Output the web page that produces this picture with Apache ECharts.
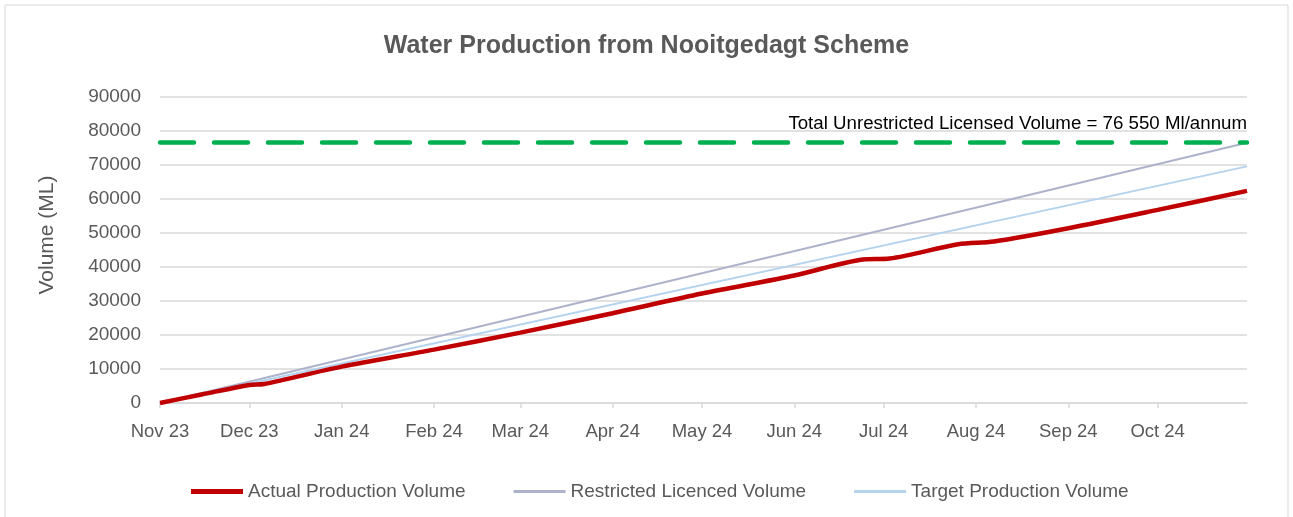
<!DOCTYPE html>
<html>
<head>
<meta charset="utf-8">
<script src="https://cdn.jsdelivr.net/npm/echarts@6/dist/echarts.min.js"></script>
<style>
  html, body { margin: 0; padding: 0; background: #fff; }
  #chart { width: 1293px; height: 517px; }
</style>
</head>
<body>
<div id="chart"></div>
<script>
// month ticks on the x axis
const monthStarts = ['2023-11-01', '2023-12-01', '2024-01-01', '2024-02-01', '2024-03-01', '2024-04-01',
  '2024-05-01', '2024-06-01', '2024-07-01', '2024-08-01', '2024-09-01', '2024-10-01'];
const monthLabels = ['Nov 23', 'Dec 23', 'Jan 24', 'Feb 24', 'Mar 24', 'Apr 24',
  'May 24', 'Jun 24', 'Jul 24', 'Aug 24', 'Sep 24', 'Oct 24'];

// cumulative actual production (ML)
const actualDates = ['2023-11-01', '2023-11-15', '2023-12-01', '2023-12-06', '2024-01-01', '2024-02-01', '2024-03-01',
  '2024-04-01', '2024-05-01', '2024-06-01', '2024-06-24', '2024-07-03', '2024-07-26', '2024-08-07',
  '2024-09-01', '2024-10-01', '2024-10-31'];
const actualValues = [0, 2500, 5300, 5600, 10700, 15700, 20700,
  26400, 32200, 37500, 42200, 42500, 46700, 47500,
  51400, 56800, 62400];

// straight-line volumes
const restrictedDates = ['2023-11-01', '2024-10-31'];
const restrictedValues = [0, 76550];
const targetDates = ['2023-11-01', '2024-10-31'];
const targetValues = [0, 69600];

const licensedVolume = 76550;
const yTicks = [0, 10000, 20000, 30000, 40000, 50000, 60000, 70000, 80000, 90000];

const FONT = '"Liberation Sans Narrow", "Liberation Sans", Arial, sans-serif';

// dates -> timestamps (UTC, so it does not depend on the machine's zone)
function ts(s) {
  const p = s.split('-').map(Number);
  return Date.UTC(p[0], p[1] - 1, p[2]);
}
function pairs(d, v) {
  return d.map((x, i) => [ts(x), v[i]]);
}
const tickValues = monthStarts.map(ts);

// legend icons: thick bar for actual, thinner bars for the straight lines
const thickIcon = 'path://M0,0 L52,0 L52,5 L0,5 Z';
const thinIcon = 'path://M0,0 L0.01,0 L0.01,0.01 Z M0,1 L52,1 L52,4 L0,4 Z M51.99,5 L52,5 L52,4.99 Z';

const chart = echarts.init(document.getElementById('chart'));
const option = {
  animation: false,
  textStyle: { fontFamily: FONT },
  graphic: [{
    type: 'rect',
    shape: { x: 5, y: 5, width: 1283, height: 520 },
    style: { fill: 'none', stroke: '#d9d9d9', lineWidth: 1 }
  }],
  title: {
    text: 'Water Production from Nooitgedagt Scheme',
    left: 'center',
    top: 29,
    textStyle: { fontFamily: FONT, fontSize: 25, fontWeight: 'bold', color: '#595959' }
  },
  legend: {
    bottom: 11,
    left: 186,
    itemWidth: 52,
    itemHeight: 5,
    itemGap: 48,
    textStyle: { fontFamily: FONT, fontSize: 19, color: '#595959' },
    data: [
      { name: 'Actual Production Volume', icon: thickIcon },
      { name: 'Restricted Licenced Volume', icon: thinIcon },
      { name: 'Target Production Volume', icon: thinIcon }
    ]
  },
  grid: { left: 160, right: 46, top: 97, bottom: 114 },
  xAxis: {
    type: 'value',
    min: ts('2023-11-01'),
    max: ts('2024-10-31'),
    splitLine: { show: false },
    axisLine: { lineStyle: { color: '#d9d9d9', width: 1.5 } },
    axisTick: { show: true, customValues: tickValues, length: 5, lineStyle: { color: '#d9d9d9', width: 1.5 } },
    axisLabel: {
      customValues: tickValues,
      fontFamily: FONT, fontSize: 18.5, color: '#595959', margin: 19,
      formatter: function (v) {
        const i = tickValues.indexOf(v);
        return i >= 0 ? monthLabels[i] : '';
      }
    }
  },
  yAxis: {
    type: 'value',
    min: yTicks[0],
    max: yTicks[yTicks.length - 1],
    interval: 10000,
    name: 'Volume (ML)',
    nameLocation: 'middle',
    nameGap: 102,
    nameTextStyle: { fontFamily: FONT, fontSize: 21, color: '#595959', padding: [0, 0, 0, 30] },
    axisLine: { show: false },
    axisTick: { show: false },
    axisLabel: {
      fontFamily: FONT, fontSize: 19, color: '#595959', margin: 19,
      formatter: function (v) { return String(v); }
    },
    splitLine: { lineStyle: { color: '#d9d9d9', width: 1.5 } }
  },
  series: [
    {
      name: 'Actual Production Volume',
      type: 'line',
      data: pairs(actualDates, actualValues),
      showSymbol: false,
      smooth: 0.3,
      z: 4,
      lineStyle: { color: '#c00000', width: 4.5 },
      itemStyle: { color: '#c00000' },
      markLine: {
        silent: true,
        symbol: 'none',
        lineStyle: { color: '#00b050', width: 4.5, type: [34, 20], cap: 'round' },
        label: {
          position: 'insideEndTop',
          formatter: 'Total Unrestricted Licensed Volume = 76 550 Ml/annum',
          fontFamily: FONT, fontSize: 18.7, color: '#000', distance: [0, 9]
        },
        data: [{ yAxis: licensedVolume }]
      }
    },
    {
      name: 'Restricted Licenced Volume',
      type: 'line',
      data: pairs(restrictedDates, restrictedValues),
      showSymbol: false,
      z: 3,
      lineStyle: { color: '#adb3cb', width: 2 },
      itemStyle: { color: '#adb3cb' }
    },
    {
      name: 'Target Production Volume',
      type: 'line',
      data: pairs(targetDates, targetValues),
      showSymbol: false,
      z: 3,
      lineStyle: { color: '#b4d3ee', width: 2 },
      itemStyle: { color: '#b4d3ee' }
    }
  ]
};
chart.setOption(option);
</script>
</body>
</html>
